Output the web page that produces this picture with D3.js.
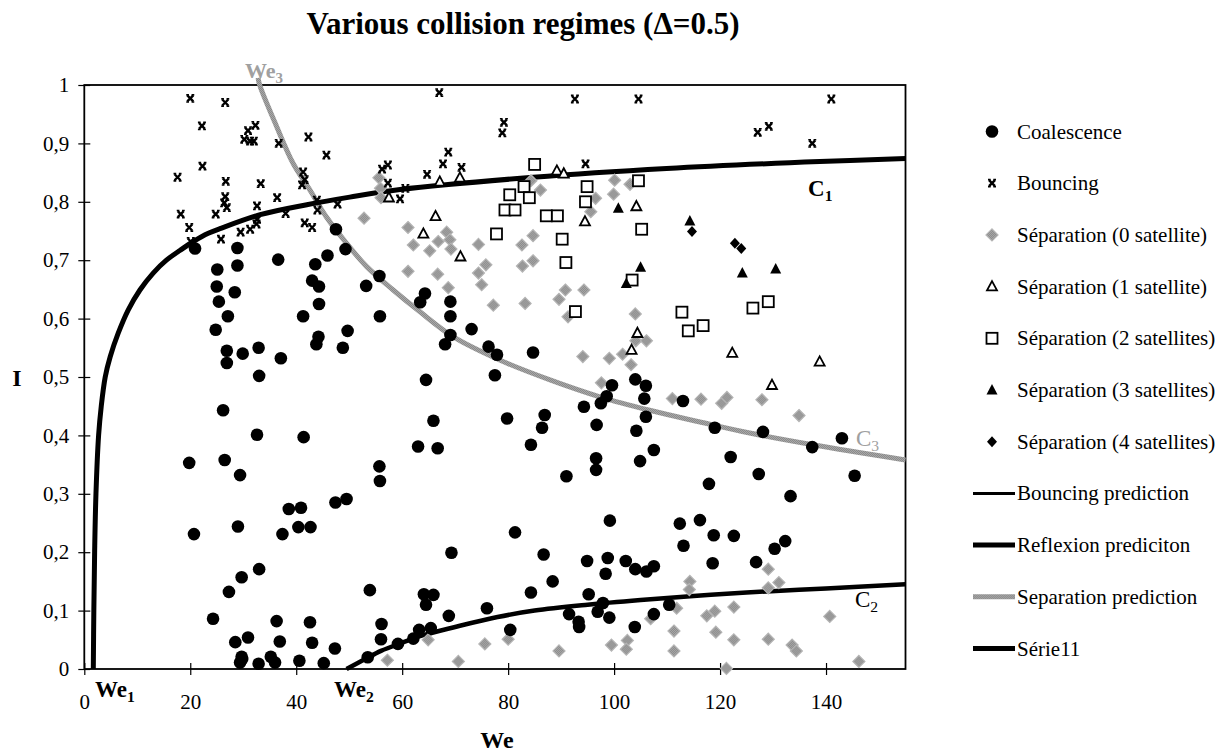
<!DOCTYPE html>
<html>
<head>
<meta charset="utf-8">
<script src="https://cdn.jsdelivr.net/npm/d3@7"></script>
<style>
  body { margin: 0; background: #fff; }
  svg text { font-family: "Liberation Serif", "Times New Roman", serif; }
</style>
</head>
<body>
<div id="chart"></div>
<script>
// collision points, [We, I]
const coalescence = [
  [20.9,0.720],[28.9,0.721],[28.9,0.691],[25.1,0.684],[25.0,0.655],[28.4,0.645],[25.4,0.629],[27.1,0.604],
  [36.6,0.701],[43.6,0.693],[45.9,0.708],[47.5,0.753],[49.3,0.719],[43.0,0.665],[44.3,0.655],[44.3,0.625],
  [41.3,0.604],[53.2,0.656],[55.7,0.673],[55.8,0.604],[64.3,0.643],[63.4,0.628],[69.1,0.629],[69.1,0.604],
  [24.8,0.581],[26.9,0.545],[26.9,0.524],[29.9,0.540],[32.9,0.550],[33.0,0.502],[37.1,0.532],[44.2,0.569],
  [43.8,0.556],[48.8,0.550],[49.7,0.579],[26.2,0.443],[32.6,0.401],[41.4,0.397],[19.8,0.353],[26.5,0.358],
  [29.4,0.332],[55.7,0.347],[55.8,0.322],[38.6,0.274],[40.9,0.276],[47.4,0.285],[49.5,0.291],[20.7,0.231],
  [29.0,0.244],[37.4,0.231],[40.4,0.243],[42.7,0.243],[33.0,0.171],[29.7,0.157],[27.3,0.132],[24.3,0.086],
  [36.3,0.082],[42.6,0.080],[28.5,0.046],[30.9,0.054],[36.9,0.047],[43.0,0.045],[47.3,0.035],[29.7,0.021],
  [29.8,0.017],[29.4,0.011],[32.9,0.009],[35.2,0.021],[36.0,0.011],[40.6,0.014],[45.2,0.010],[53.9,0.135],
  [56.1,0.077],[56.0,0.051],[53.5,0.020],[59.2,0.043],[62.1,0.052],[63.2,0.067],[65.4,0.070],[64.5,0.110],
  [64.1,0.128],[65.9,0.127],[69.3,0.199],[68.8,0.091],[76.0,0.104],[81.3,0.234],[80.4,0.067],[84.3,0.131],
  [86.7,0.196],[88.4,0.150],[91.5,0.094],[93.3,0.081],[93.4,0.072],[95.2,0.128],[94.9,0.185],[98.8,0.190],
  [98.4,0.163],[99.2,0.254],[97.9,0.113],[96.9,0.098],[99.1,0.088],[102.2,0.185],[104.0,0.171],[106.1,0.167],
  [107.5,0.176],[103.9,0.072],[107.5,0.094],[110.4,0.110],[112.4,0.249],[116.2,0.255],[113.1,0.211],[118.8,0.229],
  [122.6,0.228],[118.6,0.181],[126.8,0.183],[130.3,0.206],[132.3,0.219],[69.1,0.572],[68.1,0.556],[73.1,0.582],
  [76.3,0.552],[77.9,0.538],[77.5,0.503],[84.7,0.542],[64.5,0.495],[65.9,0.425],[63.0,0.381],[66.7,0.378],
  [79.8,0.429],[86.9,0.435],[86.4,0.413],[84.3,0.384],[94.3,0.449],[96.7,0.418],[97.5,0.455],[98.6,0.467],
  [99.6,0.486],[104.0,0.496],[106.0,0.485],[105.7,0.463],[106.0,0.432],[104.2,0.408],[107.5,0.375],[104.9,0.356],
  [96.6,0.361],[96.6,0.341],[91.0,0.330],[113.0,0.459],[119.0,0.413],[128.1,0.406],[137.4,0.380],[122.0,0.363],
  [127.3,0.334],[117.9,0.317],[133.3,0.296],[143.0,0.395],[145.4,0.331]
];
const bouncing = [
  [20.0,0.977],[26.6,0.970],[22.2,0.930],[32.3,0.931],[30.9,0.922],[30.2,0.907],[31.3,0.904],[32.0,0.904],
  [36.7,0.900],[42.3,0.911],[45.7,0.880],[22.3,0.861],[17.6,0.842],[41.3,0.851],[41.6,0.838],[41.1,0.829],
  [26.7,0.835],[33.3,0.831],[57.3,0.863],[56.2,0.856],[57.3,0.832],[60.6,0.823],[59.6,0.805],[18.2,0.779],
  [19.8,0.756],[24.8,0.779],[26.6,0.809],[26.4,0.798],[26.9,0.790],[25.8,0.736],[29.5,0.748],[31.3,0.753],
  [32.5,0.762],[32.6,0.770],[32.6,0.793],[36.4,0.807],[38.0,0.780],[41.6,0.764],[43.0,0.756],[43.9,0.803],
  [44.0,0.786],[47.8,0.796],[67.0,0.987],[92.6,0.976],[104.6,0.976],[79.2,0.936],[78.9,0.918],[68.7,0.885],
  [67.7,0.865],[71.2,0.859],[64.7,0.847],[94.6,0.865],[127.1,0.919],[129.2,0.929],[137.4,0.900],[141.0,0.976],
  [20.1,0.732]
];
const sep0 = [
  [55.6,0.841],[55.9,0.823],[56.0,0.807],[52.8,0.772],[61.1,0.756],[62.1,0.726],[61.1,0.681],[68.4,0.748],
  [66.8,0.732],[69.0,0.735],[65.2,0.716],[69.2,0.719],[74.4,0.727],[66.7,0.676],[68.7,0.653],[75.8,0.692],
  [74.4,0.678],[75.0,0.658],[77.2,0.623],[83.2,0.626],[82.6,0.726],[84.7,0.742],[82.7,0.690],[84.7,0.699],
  [84.3,0.836],[86.1,0.820],[96.5,0.806],[95.6,0.783],[100.1,0.837],[99.9,0.813],[103.0,0.830],[90.8,0.649],
  [94.3,0.649],[89.6,0.633],[91.3,0.603],[104.0,0.608],[94.1,0.535],[99.1,0.532],[101.6,0.539],[103.2,0.521],
  [104.1,0.562],[106.1,0.562],[97.6,0.490],[111.0,0.463],[116.4,0.462],[120.3,0.455],[121.3,0.465],[127.9,0.461],
  [134.9,0.434],[57.2,0.015],[64.9,0.050],[70.6,0.013],[75.6,0.043],[80.0,0.051],[89.6,0.031],[99.5,0.041],
  [102.5,0.049],[102.3,0.034],[106.9,0.086],[111.8,0.104],[111.3,0.065],[111.3,0.031],[114.3,0.150],[114.2,0.136],
  [117.5,0.091],[119.0,0.099],[119.2,0.063],[122.6,0.106],[122.6,0.050],[121.2,0.001],[129.1,0.171],[129.1,0.139],
  [131.1,0.148],[129.1,0.051],[133.6,0.041],[134.4,0.031],[140.7,0.090],[146.2,0.013]
];
const sep1 = [
  [57.5,0.807],[67.1,0.834],[70.9,0.841],[89.2,0.853],[90.5,0.848],[66.3,0.775],[64.0,0.745],[71.0,0.706],
  [94.5,0.766],[104.2,0.792],[104.4,0.575],[103.3,0.546],[122.3,0.541],[129.8,0.486],[138.8,0.526]
];
const sep2 = [
  [85.0,0.864],[83.0,0.826],[80.3,0.812],[84.0,0.807],[79.4,0.786],[81.3,0.786],[77.8,0.745],[87.2,0.776],
  [89.3,0.776],[90.2,0.736],[94.9,0.826],[94.6,0.800],[104.6,0.836],[105.2,0.753],[90.9,0.696],[103.4,0.666],
  [92.7,0.612],[112.8,0.611],[126.2,0.618],[129.1,0.629],[114.0,0.579],[116.8,0.588]
];
const sep3 = [[100.8,0.789],[114.3,0.767],[105.0,0.688],[124.2,0.678],[130.5,0.685],[102.3,0.660]];
const sep4 = [[114.7,0.749],[122.8,0.729],[124.0,0.720]];

// prediction curves
const curveC1 = [
  [1.7,0],[1.8,0.1],[1.95,0.2],[2.2,0.3],[2.7,0.4],[3.2,0.45],[3.95,0.5],[4.9,0.535],[6.4,0.575],[8.3,0.615],
  [10.5,0.649],[13.0,0.678],[15.5,0.700],[18.1,0.717],[20.6,0.732],[23.4,0.746],[25.6,0.754],[33.2,0.778],
  [42,0.795],[50.1,0.808],[59.6,0.821],[84.7,0.842],[109.9,0.857],[138.8,0.869],[155,0.874]
];
const curveC2 = [
  [49.5,0],[53,0.017],[56,0.031],[60,0.045],[64,0.058],[70,0.072],[78,0.089],[85,0.100],[95,0.110],
  [105,0.118],[115,0.125],[125,0.131],[140,0.138],[155,0.145]
];
const curveC3 = [
  [32.8,1.012],[33.1,1.0],[36.3,0.929],[39.4,0.866],[42.6,0.820],[45.7,0.774],[49.5,0.729],[53.3,0.689],
  [58.3,0.649],[63.3,0.612],[69.6,0.569],[78.4,0.529],[87.9,0.495],[97.3,0.466],[106.7,0.443],[116.2,0.423],
  [125.6,0.404],[137.5,0.384],[155,0.358]
];

const xTicks = [0, 20, 40, 60, 80, 100, 120, 140];
const yTicks = [0, 0.1, 0.2, 0.3, 0.4, 0.5, 0.6, 0.7, 0.8, 0.9, 1];

const legendItems = [
  { label: "Coalescence", kind: "circle" },
  { label: "Bouncing", kind: "cross" },
  { label: "Séparation (0 satellite)", kind: "diamondGray" },
  { label: "Séparation (1 satellite)", kind: "triangleOpen" },
  { label: "Séparation (2 satellites)", kind: "squareOpen" },
  { label: "Séparation (3 satellites)", kind: "triangleFill" },
  { label: "Séparation (4 satellites)", kind: "diamondFill" },
  { label: "Bouncing prediction", kind: "lineThin" },
  { label: "Reflexion prediciton", kind: "lineThick" },
  { label: "Separation prediction", kind: "lineGray" },
  { label: "Série11", kind: "lineThick" }
];

const FONT = "'Liberation Serif', 'Times New Roman', serif";
const width = 1228, height = 755;
const svg = d3.select("#chart").append("svg")
  .attr("width", width)
  .attr("height", height)
  .attr("font-family", FONT);

const x = d3.scaleLinear().domain([0, 155]).range([84.3, 905.5]);
const y = d3.scaleLinear().domain([0, 1]).range([669, 85]);

// marker drawing
const drawMarker = (g, kind) => {
  switch (kind) {
    case "circle":
      g.append("circle").attr("r", 6.3).attr("fill", "#000");
      break;
    case "cross":
      g.append("path")
        .attr("d", "M-3,-3L3,3M3,-3L-3,3")
        .attr("stroke", "#000").attr("stroke-width", 2.4).attr("fill", "none");
      g.append("path")
        .attr("d", "M-4,-3.6H-1.3M1.3,-3.6H4M-4,3.6H-1.3M1.3,3.6H4")
        .attr("stroke", "#000").attr("stroke-width", 1.6).attr("fill", "none");
      break;
    case "diamondGray":
      g.append("path").attr("d", "M0,-6L6,0L0,6L-6,0Z")
        .attr("fill", "url(#hatch)").attr("stroke", "#b4b4b4").attr("stroke-width", 1.2);
      break;
    case "triangleOpen":
      g.append("path").attr("d", "M0,-5.5L5,3.8L-5,3.8Z")
        .attr("fill", "#fff").attr("stroke", "#000").attr("stroke-width", 1.8);
      break;
    case "squareOpen":
      g.append("rect").attr("x", -5.5).attr("y", -5.5).attr("width", 11).attr("height", 11)
        .attr("fill", "#fff").attr("stroke", "#000").attr("stroke-width", 1.8);
      break;
    case "triangleFill":
      g.append("path").attr("d", "M0,-6L5.5,4.5L-5.5,4.5Z").attr("fill", "#000");
      break;
    case "diamondFill":
      g.append("path").attr("d", "M0,-5.5L5,0L0,5.5L-5,0Z").attr("fill", "#000");
      break;
  }
};

// hatch pattern for grey diamonds and grey line
const defs = svg.append("defs");
const pat = defs.append("pattern").attr("id", "hatch").attr("patternUnits", "userSpaceOnUse")
  .attr("width", 2).attr("height", 2);
pat.append("rect").attr("width", 2).attr("height", 2).attr("fill", "#a8a8a8");
pat.append("rect").attr("width", 1).attr("height", 1).attr("fill", "#8a8a8a");
pat.append("rect").attr("x", 1).attr("y", 1).attr("width", 1).attr("height", 1).attr("fill", "#8a8a8a");

// title
svg.append("text")
  .attr("x", 523).attr("y", 34)
  .attr("text-anchor", "middle")
  .attr("font-size", 31).attr("font-weight", "bold")
  .text("Various collision regimes (Δ=0.5)");

// axes
const yAxis = svg.append("g")
  .attr("transform", `translate(${x(0)},0)`)
  .call(d3.axisLeft(y).tickValues(yTicks).tickSize(6).tickPadding(9)
    .tickFormat(d => (d === 0 || d === 1) ? String(d) : d3.format(".1f")(d).replace(".", ",")));
yAxis.selectAll(".tick line").attr("x1", 6).attr("x2", -6);
yAxis.select(".domain").remove();

const xAxis = svg.append("g")
  .attr("transform", `translate(0,${y(0)})`)
  .call(d3.axisBottom(x).tickValues(xTicks).tickSize(6).tickPadding(19));
xAxis.selectAll(".tick line").attr("y1", -6).attr("y2", 6);
xAxis.select(".domain").remove();

svg.selectAll(".tick text")
  .attr("font-family", FONT)
  .attr("font-size", 21)
  .attr("fill", "#000");
svg.selectAll(".tick line").attr("stroke", "#000").attr("stroke-width", 1.2);
yAxis.attr("font-family", FONT);
xAxis.attr("font-family", FONT);

// plot frame
svg.append("rect")
  .attr("x", x(0)).attr("y", y(1))
  .attr("width", x(155) - x(0)).attr("height", y(0) - y(1))
  .attr("fill", "none").attr("stroke", "#000").attr("stroke-width", 1.8);

// prediction curves
const line = d3.line()
  .x(d => x(d[0])).y(d => y(d[1]))
  .curve(d3.curveCatmullRom.alpha(0.5));

svg.append("path").datum(curveC3)
  .attr("d", line).attr("fill", "none")
  .attr("stroke", "url(#hatch)").attr("stroke-width", 5);
svg.append("path").datum(curveC1)
  .attr("d", line).attr("fill", "none")
  .attr("stroke", "#000").attr("stroke-width", 5).attr("stroke-linejoin", "round");
svg.append("path").datum(curveC2)
  .attr("d", line).attr("fill", "none")
  .attr("stroke", "#000").attr("stroke-width", 4.5);

// point series
const series = [
  { data: sep0, kind: "diamondGray" },
  { data: coalescence, kind: "circle" },
  { data: bouncing, kind: "cross" },
  { data: sep1, kind: "triangleOpen" },
  { data: sep2, kind: "squareOpen" },
  { data: sep3, kind: "triangleFill" },
  { data: sep4, kind: "diamondFill" }
];
series.forEach(s => {
  svg.append("g").selectAll("g")
    .data(s.data)
    .join("g")
    .attr("transform", d => `translate(${x(d[0])},${y(d[1])})`)
    .each(function () { drawMarker(d3.select(this), s.kind); });
});

// curve labels
const label = (px, py, main, sub, opts) => {
  const t = svg.append("text")
    .attr("x", px).attr("y", py)
    .attr("font-size", opts.size || 22)
    .attr("font-weight", opts.bold ? "bold" : "normal")
    .attr("fill", opts.fill || "#000");
  t.append("tspan").text(main);
  t.append("tspan").attr("dy", 5).attr("font-size", (opts.size || 22) * 0.68).text(sub);
};
label(245, 78, "We", "3", { bold: true, fill: "#a0a0a0", size: 22 });
label(808, 196, "C", "1", { bold: true, size: 23 });
label(856, 446, "C", "3", { fill: "#a0a0a0", size: 23 });
label(855, 607, "C", "2", { size: 23 });
label(95, 697, "We", "1", { bold: true, size: 23 });
label(334, 697, "We", "2", { bold: true, size: 23 });

// axis titles
svg.append("text").attr("x", 497).attr("y", 748)
  .attr("text-anchor", "middle").attr("font-size", 24).attr("font-weight", "bold").text("We");
svg.append("text").attr("x", 17).attr("y", 386)
  .attr("text-anchor", "middle").attr("font-size", 24).attr("font-weight", "bold").text("I");

// legend
const legend = svg.append("g");
legendItems.forEach((it, i) => {
  const cy = 131.5 + i * 51.7;
  const row = legend.append("g").attr("transform", `translate(0,${cy})`);
  if (it.kind.startsWith("line")) {
    row.append("line").attr("x1", 973).attr("x2", 1015).attr("y1", 0).attr("y2", 0)
      .attr("stroke", it.kind === "lineGray" ? "url(#hatch)" : "#000")
      .attr("stroke-width", it.kind === "lineThin" ? 3 : 5);
  } else {
    drawMarker(row.append("g").attr("transform", "translate(992,0)"), it.kind);
  }
  row.append("text").attr("x", 1017).attr("y", 7).attr("font-size", 21).text(it.label);
});
</script>
</body>
</html>
